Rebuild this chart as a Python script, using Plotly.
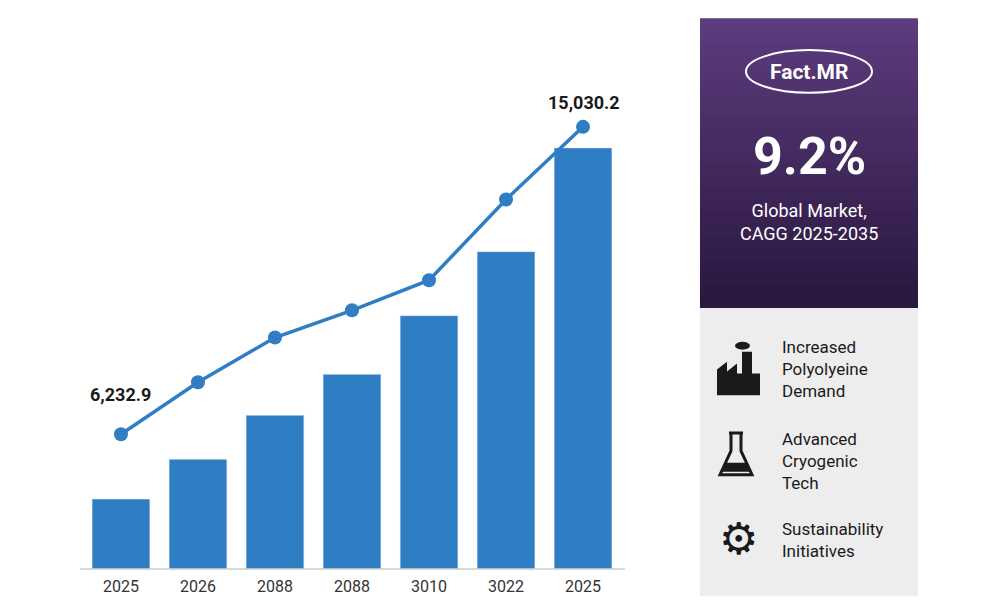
import plotly.graph_objects as go

years = ["2025", "2026", "2088", "2088", "3010", "3022", "2025"]
bar_values = [2000, 3140, 4400, 5570, 7250, 9080, 12050]
line_values = [6232.9, 7720, 9000, 9780, 10640, 12950, 15030.2]
x = list(range(len(years)))

OFF = 8  # page body margin
L, R, T, B = 72, 383, 52, 35
PW, PH = 1000 - L - R, 600 - T - B
def px(v): return (v - OFF - L) / PW
def py(v): return (600 - B - (v - OFF)) / PH

BLUE = "#2f7ec4"
fig = go.Figure()
fig.add_bar(x=x, y=bar_values, marker_color=BLUE, width=0.75, hoverinfo="skip")
fig.add_scatter(x=x, y=line_values, yaxis="y2", mode="lines+markers",
                line=dict(color=BLUE, width=3.5), marker=dict(size=14, color=BLUE))

shapes = []
ann = []
shapes.append(dict(type="line", xref="paper", yref="paper", x0=0, x1=1, y0=0, y1=0,
                   line=dict(color="#cccccc", width=1.5)))
shapes.append(dict(type="rect", xref="paper", yref="paper", x0=px(700), x1=px(918),
                   y0=py(600), y1=py(310), fillcolor="#ededee", line_width=0, layer="below"))
steps = 24
h = 292 / steps
for i in range(steps):
    y0 = 18 + i * h
    t = i / (steps - 1)
    c0 = (92, 60, 125); c1 = (42, 24, 64)
    col = "rgb(%d,%d,%d)" % tuple(int(a + (b - a) * t) for a, b in zip(c0, c1))
    y_end = y0 + h + (3 if i < steps - 1 else 0)
    shapes.append(dict(type="rect", xref="paper", yref="paper", x0=px(700), x1=px(918),
                       y0=py(y_end), y1=py(y0), fillcolor=col, line_width=0, layer="below"))
shapes.append(dict(type="circle", xref="paper", yref="paper", x0=px(746), x1=px(872),
                   y0=py(93), y1=py(50), line=dict(color="white", width=2)))

def conv(p):
    out = []; toks = p.split(); i = 0
    while i < len(toks):
        t = toks[i]
        if t in "MLZ":
            out.append(t); i += 1
        else:
            out.append("%f,%f" % (px(float(t)), py(float(toks[i + 1])))); i += 2
    return " ".join(out)

fpath = "M 717 398 L 717 372 L 727 364 L 727 374 L 737 366 L 737 376 L 742 376 L 742 354 L 752 354 L 752 376 L 760 376 L 760 398 Z"
shapes.append(dict(type="path", xref="paper", yref="paper", path=conv(fpath), fillcolor="#1a1a1a", line_width=0))
shapes.append(dict(type="circle", xref="paper", yref="paper", x0=px(735), x1=px(750), y0=py(352), y1=py(344), fillcolor="#1a1a1a", line_width=0))
flask = "M 729 436 L 743 436 M 731 436 L 731 454 L 720 478 L 752 478 L 741 454 L 741 436"
shapes.append(dict(type="path", xref="paper", yref="paper", path=conv(flask), line=dict(color="#1a1a1a", width=3)))
shapes.append(dict(type="path", xref="paper", yref="paper",
                   path=conv("M 725 466 L 747 466 L 750 475 L 722 475 Z"), fillcolor="#1a1a1a", line_width=0))

def A(text, xx, yy, size, color="#1a1a1a", anchor="left", bold=False):
    ann.append(dict(text=("<b>%s</b>" % text) if bold else text, xref="paper", yref="paper",
                    x=px(xx), y=py(yy), xanchor=anchor, yanchor="middle", showarrow=False, align=anchor,
                    font=dict(size=size, color=color, family="Roboto")))

A("Fact.MR", 809, 72, 21, "white", "center", True)
A("9.2%", 809, 157, 52, "white", "center", True)
A("Global Market,<br>CAGG 2025-2035", 809, 223, 18, "white", "center")
A("Increased<br>Polyolyeine<br>Demand", 780, 371, 17)
A("Advanced<br>Cryogenic<br>Tech", 780, 464, 17)
A("Sustainability<br>Initiatives", 780, 544, 17)
A("⚙", 738, 543, 44, "#1a1a1a", "center")
A("6,232.9", 120, 397, 18, "#1a1a1a", "center", True)
A("15,030.2", 584, 103, 18, "#1a1a1a", "center", True)

yr = 510 * 28.56
fig.update_layout(
    width=1000, height=600, margin=dict(l=L, r=R, t=T, b=B),
    paper_bgcolor="white", plot_bgcolor="white", showlegend=False,
    shapes=shapes, annotations=ann,
    xaxis=dict(tickmode="array", tickvals=x, ticktext=years, range=[-0.532, 6.545],
               showgrid=False, zeroline=False, tickfont=dict(size=16, color="#333", family="Roboto"),
               ticks="", ticklabelstandoff=6),
    yaxis=dict(range=[0, yr], visible=False),
    yaxis2=dict(range=[2377, 2377 + yr], overlaying="y", visible=False),
)
fig.write_html("out.html")
